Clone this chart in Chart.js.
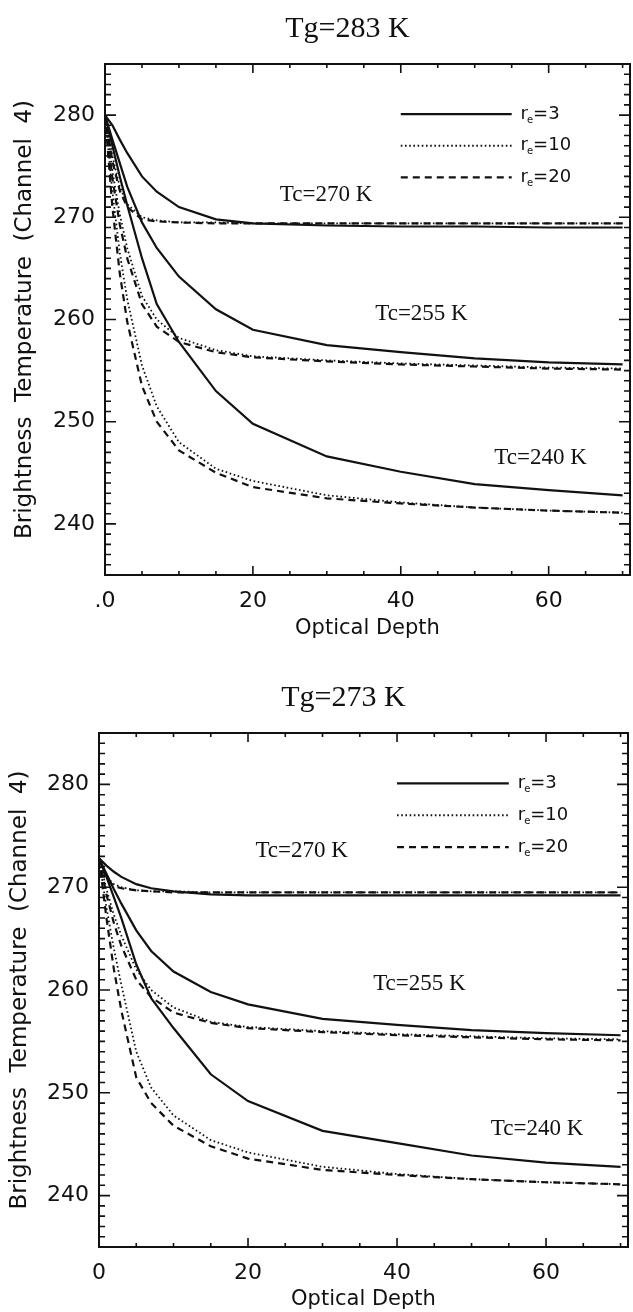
<!DOCTYPE html>
<html>
<head>
<meta charset="utf-8">
<script src="https://cdn.jsdelivr.net/npm/chart.js@4.4.0/dist/chart.umd.min.js"></script>
<style>
  body { margin: 0; background: #fff; }
  .panel { width: 633px; height: 656px; }
</style>
</head>
<body>
<div class="panel"><canvas id="chartTop" width="633" height="656"></canvas></div>
<div class="panel"><canvas id="chartBottom" width="633" height="656"></canvas></div>
<script>
// optical depth sampling used by all curves
var opticalDepth = [0, 1, 2, 3, 5, 7, 10, 15, 20, 30, 40, 50, 60, 70];

var radiusLabels = ['3', '10', '20'];
var cloudLabels = ['Tc=270 K', 'Tc=255 K', 'Tc=240 K'];

var xTickValues = [0, 20, 40, 60];
var xTickLabelsTop = ['.0', '20', '40', '60'];
var xTickLabelsBottom = ['0', '20', '40', '60'];
var yTickValues = [240, 250, 260, 270, 280];
var yTickLabels = ['240', '250', '260', '270', '280'];

// Tg = 283 K
var g283c270r3  = [280, 279.0, 277.6, 276.3, 274.0, 272.5, 271.0, 269.8, 269.4, 269.2, 269.1, 269.1, 269.0, 269.0];
var g283c270r10 = [280, 276.0, 273.0, 271.3, 270.0, 269.7, 269.5, 269.5, 269.4, 269.4, 269.4, 269.4, 269.4, 269.4];
var g283c270r20 = [280, 275.5, 272.6, 271.0, 269.8, 269.6, 269.5, 269.4, 269.4, 269.4, 269.4, 269.4, 269.4, 269.4];
var g283c255r3  = [280, 277.6, 275.3, 273.0, 269.5, 267.0, 264.2, 261.0, 259.0, 257.5, 256.8, 256.2, 255.8, 255.6];
var g283c255r10 = [280, 274.5, 270.3, 267.0, 262.3, 260.0, 258.2, 257.0, 256.4, 256.0, 255.7, 255.5, 255.3, 255.2];
var g283c255r20 = [280, 273.8, 269.3, 266.0, 261.5, 259.3, 257.8, 256.8, 256.3, 255.9, 255.6, 255.4, 255.2, 255.1];
var g283c240r3  = [280, 277.0, 274.0, 271.2, 266.0, 261.5, 257.8, 253.0, 249.8, 246.6, 245.1, 243.9, 243.3, 242.8];
var g283c240r10 = [280, 272.5, 266.5, 262.0, 255.5, 251.5, 248.0, 245.4, 244.2, 242.8, 242.1, 241.6, 241.3, 241.1];
var g283c240r20 = [280, 271.0, 264.5, 259.8, 253.5, 250.0, 247.2, 245.0, 243.6, 242.5, 242.0, 241.6, 241.3, 241.1];

// Tg = 273 K
var g273c270r3  = [272.8, 272.1, 271.5, 271.0, 270.3, 269.9, 269.6, 269.3, 269.2, 269.2, 269.2, 269.2, 269.2, 269.2];
var g273c270r10 = [272.8, 271.0, 270.3, 270.0, 269.7, 269.6, 269.6, 269.5, 269.5, 269.5, 269.5, 269.5, 269.5, 269.5];
var g273c270r20 = [272.8, 270.8, 270.1, 269.9, 269.7, 269.6, 269.5, 269.5, 269.5, 269.5, 269.5, 269.5, 269.5, 269.5];
var g273c255r3  = [272.8, 271.3, 269.8, 268.4, 265.8, 263.8, 261.8, 259.8, 258.6, 257.2, 256.6, 256.1, 255.8, 255.6];
var g273c255r10 = [272.8, 269.8, 267.3, 265.3, 262.0, 260.0, 258.3, 256.9, 256.4, 256.0, 255.7, 255.5, 255.3, 255.2];
var g273c255r20 = [272.8, 269.3, 266.5, 264.3, 261.0, 259.3, 257.8, 256.8, 256.3, 255.9, 255.6, 255.4, 255.2, 255.1];
var g273c240r3  = [272.8, 271.0, 269.0, 267.0, 262.5, 259.2, 256.3, 251.8, 249.2, 246.3, 245.1, 243.9, 243.2, 242.8];
var g273c240r10 = [272.8, 268.0, 264.0, 260.5, 254.0, 250.5, 247.8, 245.4, 244.2, 242.8, 242.1, 241.6, 241.3, 241.1];
var g273c240r20 = [272.8, 267.0, 262.0, 258.0, 251.5, 249.0, 246.8, 244.8, 243.6, 242.5, 242.0, 241.6, 241.3, 241.1];

var ink = '#111';
var sans = "'DejaVu Sans', sans-serif";
var serif = "'Liberation Serif', 'Times New Roman', serif";

// solid / dotted / dashed for r=3, 10, 20
var lineStyles = [
  { dash: [], width: 2.2 },
  { dash: [1.6, 2.6], width: 1.8 },
  { dash: [7, 5], width: 2.2 }
];

function toPoints(values) {
  return values.map(function (v, i) { return { x: opticalDepth[i], y: v }; });
}

function makeDatasets(groups) {
  var sets = [];
  groups.forEach(function (group, gi) {
    group.forEach(function (values, ri) {
      sets.push({
        label: cloudLabels[gi] + ' r=' + radiusLabels[ri],
        data: toPoints(values),
        borderColor: ink,
        borderWidth: lineStyles[ri].width,
        borderDash: lineStyles[ri].dash,
        pointRadius: 0,
        tension: 0,
        fill: false
      });
    });
  });
  return sets;
}

// frame, inward ticks, legend, curve labels and title
var decorPlugin = {
  id: 'decor',
  afterDatasetsDraw: function (chart, args, opts) {
    var ctx = chart.ctx;
    var a = chart.chartArea;
    var xs = chart.scales.x;
    var ys = chart.scales.y;
    ctx.save();
    ctx.strokeStyle = ink;
    ctx.fillStyle = ink;
    ctx.lineWidth = 2;
    ctx.setLineDash([]);
    ctx.strokeRect(a.left, a.top, a.right - a.left, a.bottom - a.top);

    ctx.lineWidth = 1.6;
    ctx.beginPath();
    for (var xv = 5; xv <= 70; xv += 5) {
      var px = xs.getPixelForValue(xv);
      var len = (xv % 20 === 0) ? 9 : 4;
      ctx.moveTo(px, a.bottom); ctx.lineTo(px, a.bottom - len);
      ctx.moveTo(px, a.top); ctx.lineTo(px, a.top + len);
    }
    for (var yv = 236; yv <= 284; yv += 1) {
      var py = ys.getPixelForValue(yv);
      var ylen = (yv % 10 === 0) ? 11 : 6;
      ctx.moveTo(a.left, py); ctx.lineTo(a.left + ylen, py);
      ctx.moveTo(a.right, py); ctx.lineTo(a.right - ylen, py);
    }
    ctx.stroke();

    // legend
    var legendY = [280.1, 277.0, 273.9];
    ctx.textBaseline = 'middle';
    ctx.textAlign = 'left';
    for (var i = 0; i < 3; i++) {
      var ly = ys.getPixelForValue(legendY[i]);
      ctx.lineWidth = lineStyles[i].width;
      ctx.setLineDash(lineStyles[i].dash);
      ctx.beginPath();
      ctx.moveTo(xs.getPixelForValue(40), ly);
      ctx.lineTo(xs.getPixelForValue(55), ly);
      ctx.stroke();
      ctx.setLineDash([]);
      var tx = xs.getPixelForValue(56.2);
      ctx.font = '18px ' + sans;
      ctx.fillText('r', tx, ly);
      var rw = ctx.measureText('r').width;
      ctx.font = '10px ' + sans;
      ctx.fillText('e', tx + rw - 1, ly + 6);
      var ew = ctx.measureText('e').width;
      ctx.font = '18px ' + sans;
      ctx.fillText('=' + radiusLabels[i], tx + rw + ew - 1, ly);
    }

    // curve group labels
    ctx.font = '23px ' + serif;
    ctx.textAlign = 'center';
    opts.labelPos.forEach(function (p, k) {
      ctx.fillText(cloudLabels[k], xs.getPixelForValue(p[0]), ys.getPixelForValue(p[1]));
    });

    // panel title
    ctx.font = '30px ' + serif;
    ctx.fillText(opts.title, (a.left + a.right) / 2 - 20, opts.titleY);
    ctx.restore();
  }
};

function makeChart(id, groups, xTickLabels, cfg) {
  var el = document.getElementById(id);
  return new Chart(el.getContext('2d'), {
    type: 'line',
    data: { datasets: makeDatasets(groups) },
    plugins: [decorPlugin],
    options: {
      responsive: false,
      devicePixelRatio: 1,
      animation: false,
      layout: { padding: { top: cfg.top, right: 633 - cfg.right, left: 0, bottom: 0 } },
      plugins: {
        legend: { display: false },
        tooltip: { enabled: false },
        decor: { title: cfg.title, titleY: cfg.titleY, labelPos: cfg.labelPos }
      },
      scales: {
        x: {
          type: 'linear',
          min: 0,
          max: 71,
          grid: { display: false, drawTicks: false },
          border: { display: false },
          afterBuildTicks: function (axis) {
            axis.ticks = xTickValues.map(function (v) { return { value: v }; });
          },
          afterFit: function (axis) { axis.height = 656 - cfg.bottom; },
          ticks: {
            color: ink,
            font: { family: sans, size: 22 },
            padding: 13,
            maxRotation: 0,
            autoSkip: false,
            callback: function (v) {
              var k = xTickValues.indexOf(v);
              return k >= 0 ? xTickLabels[k] : '';
            }
          },
          title: {
            display: true,
            text: 'Optical Depth',
            color: ink,
            font: { family: sans, size: 21 },
            padding: { top: 0, bottom: cfg.xTitlePad }
          }
        },
        y: {
          min: 235,
          max: 285,
          grid: { display: false, drawTicks: false },
          border: { display: false },
          afterBuildTicks: function (axis) {
            axis.ticks = yTickValues.map(function (v) { return { value: v }; });
          },
          afterFit: function (axis) { axis.width = cfg.left; },
          ticks: {
            color: ink,
            font: { family: sans, size: 22 },
            padding: 10,
            callback: function (v) {
              var k = yTickValues.indexOf(v);
              return k >= 0 ? yTickLabels[k] : '';
            }
          },
          title: {
            display: true,
            text: 'Brightness  Temperature  (Channel  4)',
            color: ink,
            font: { family: sans, size: 23 },
            padding: { top: cfg.yTitlePad, bottom: 0 }
          }
        }
      }
    }
  });
}

makeChart('chartTop',
  [[g283c270r3, g283c270r10, g283c270r20],
   [g283c255r3, g283c255r10, g283c255r20],
   [g283c240r3, g283c240r10, g283c240r20]],
  xTickLabelsTop,
  { left: 105, right: 630, top: 64, bottom: 575, xTitlePad: 15, yTitlePad: 11,
    title: 'Tg=283 K', titleY: 29,
    labelPos: [[29.9, 272.2], [42.8, 260.5], [58.9, 246.5]] });

makeChart('chartBottom',
  [[g273c270r3, g273c270r10, g273c270r20],
   [g273c255r3, g273c255r10, g273c255r20],
   [g273c240r3, g273c240r10, g273c240r20]],
  xTickLabelsBottom,
  { left: 99, right: 628, top: 77, bottom: 591, xTitlePad: 0, yTitlePad: 6,
    title: 'Tg=273 K', titleY: 42,
    labelPos: [[27.2, 273.5], [43.0, 260.6], [58.8, 246.5]] });
</script>
</body>
</html>
